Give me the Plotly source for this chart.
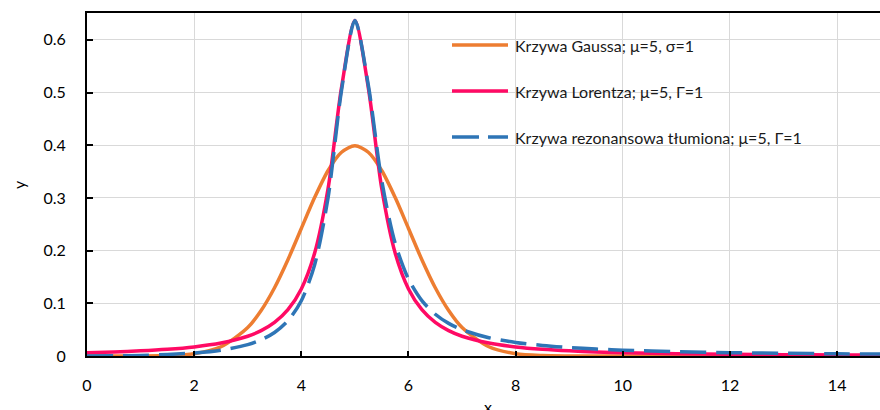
import plotly.graph_objects as go

# ---- data ----
x_vals = [0, 0.5, 1, 1.5, 2, 2.5, 3, 3.25, 3.5, 3.75, 4, 4.25, 4.5, 4.75, 5,
          5.25, 5.5, 5.75, 6, 6.25, 6.5, 6.75, 7, 7.5, 8, 8.5, 9, 9.5, 10,
          11, 12, 13, 14, 15]

gauss = [0.0, 0.00002, 0.00013, 0.00087, 0.0044, 0.0175, 0.0540, 0.0863, 0.1295,
         0.1827, 0.2420, 0.3011, 0.3521, 0.3867, 0.3989,
         0.3867, 0.3521, 0.3011, 0.2420, 0.1827, 0.1295, 0.0863, 0.0540, 0.0175,
         0.0044, 0.00087, 0.00013, 0.00002, 0.0,
         0.0, 0.0, 0.0, 0.0, 0.0]

lorentz = [0.0063, 0.0078, 0.0098, 0.0127, 0.0172, 0.0245, 0.0375, 0.0481, 0.0637,
           0.0878, 0.1273, 0.1959, 0.3183, 0.5093, 0.6366,
           0.5093, 0.3183, 0.1959, 0.1273, 0.0878, 0.0637, 0.0481, 0.0375, 0.0245,
           0.0172, 0.0127, 0.0098, 0.0078, 0.0063,
           0.0044, 0.0032, 0.0025, 0.0020, 0.0016]

resonance = [0.0, 0.0003, 0.0011, 0.0028, 0.0057, 0.0111, 0.0216, 0.0307, 0.0446,
             0.0670, 0.1050, 0.1737, 0.3011, 0.5039, 0.6366,
             0.5141, 0.3331, 0.2146, 0.1460, 0.1050, 0.0792, 0.0619, 0.0499, 0.0347,
             0.0257, 0.0200, 0.0160, 0.0132, 0.0111,
             0.0083, 0.0064, 0.0052, 0.0042, 0.0036]

series_names = ["Krzywa Gaussa; μ=5, σ=1",
                "Krzywa Lorentza; μ=5, Γ=1",
                "Krzywa rezonansowa tłumiona; μ=5, Γ=1"]
series_colors = ["#ED7D31", "#FF0A64", "#2E75B6"]
series_dash = ["solid", "solid", "26px,10px"]
legend_dash = ["solid", "solid", "27px,9px"]

x_tick_vals = [0, 2, 4, 6, 8, 10, 12, 14]
y_tick_vals = [0, 0.1, 0.2, 0.3, 0.4, 0.5, 0.6]

FONT = "Lato"
W, H = 880, 410
ML, MR, MT, MB = 87, 0, 13, 54
PW, PH = W - ML - MR, H - MT - MB

def px_x(p):
    return (p - ML) / PW

def px_y(p):
    return (H - MB - p) / PH

fig = go.Figure()
for name, ys, col, dash in zip(series_names, [gauss, lorentz, resonance], series_colors, series_dash):
    fig.add_trace(go.Scatter(x=x_vals, y=ys, mode="lines", name=name,
                             line=dict(color=col, width=3.5, dash=dash, shape="spline", smoothing=0.8),
                             showlegend=False))

# manual legend (white box covering gridlines)
fig.add_shape(type="rect", xref="paper", yref="paper",
              x0=px_x(393), x1=1.0, y0=px_y(158), y1=px_y(22),
              fillcolor="white", line=dict(width=0), layer="between")
item_y = [45, 91, 137]
for name, col, dash, yy in zip(series_names, series_colors, legend_dash, item_y):
    fig.add_shape(type="line", xref="paper", yref="paper",
                  x0=px_x(452), x1=px_x(508), y0=px_y(yy), y1=px_y(yy),
                  line=dict(color=col, width=3.5, dash=dash))
    fig.add_annotation(x=px_x(513), y=px_y(yy), xref="paper", yref="paper",
                       text=name, showarrow=False, xanchor="left", yanchor="middle",
                       font=dict(family=FONT, size=16, color="#1a1a1a"))

# axis titles
fig.add_annotation(x=px_x(488), y=px_y(406), xref="paper", yref="paper", text="x",
                   showarrow=False, xanchor="center", yanchor="middle",
                   font=dict(family=FONT, size=16, color="#000000"))
fig.add_annotation(x=px_x(18), y=px_y(185), xref="paper", yref="paper", text="y",
                   showarrow=False, xanchor="center", yanchor="middle", textangle=-90,
                   font=dict(family=FONT, size=16, color="#000000"))

fig.update_layout(
    width=W, height=H,
    margin=dict(l=ML, r=MR, t=MT, b=MB, pad=0),
    paper_bgcolor="white", plot_bgcolor="white",
    font=dict(family=FONT, size=16, color="#000000"),
    showlegend=False,
    xaxis=dict(range=[0, 14.8], tickvals=x_tick_vals, showgrid=True,
               gridcolor="#D9D9D9", gridwidth=1.3, zeroline=False,
               showline=True, linecolor="black", linewidth=2, mirror=True,
               ticks="inside", ticklen=5, tickwidth=1.5, tickcolor="black",
               ticklabelstandoff=14, tickfont=dict(family=FONT, size=16)),
    yaxis=dict(range=[0, 0.651], tickvals=y_tick_vals,
               ticktext=["0", "0.1", "0.2", "0.3", "0.4", "0.5", "0.6"],
               showgrid=True, gridcolor="#D9D9D9", gridwidth=1.3, zeroline=False,
               showline=True, linecolor="black", linewidth=2,
               ticks="inside", ticklen=6, tickwidth=1.5, tickcolor="black",
               ticklabelstandoff=16, tickfont=dict(family=FONT, size=16)),
)

fig.write_html("out.html")
